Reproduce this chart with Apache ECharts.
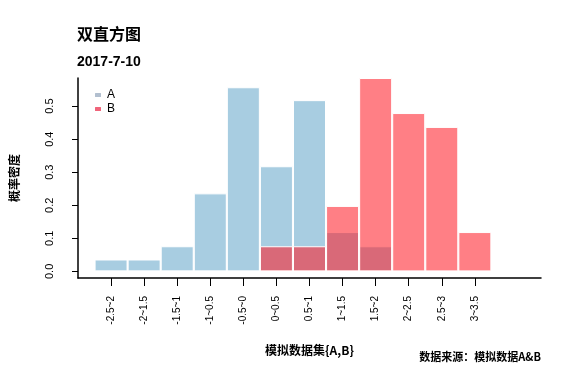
<!DOCTYPE html>
<html>
<head>
<meta charset="utf-8">
<script src="https://cdn.jsdelivr.net/npm/echarts@6/dist/echarts.min.js"></script>
<style>
  html, body { margin: 0; padding: 0; background: #fff; }
  #main { width: 581px; height: 377px; }
</style>
</head>
<body>
<div id="main"></div>
<script>
  // bins of the two histograms
  var categories = ['-2.5~2', '-2~1.5', '-1.5~1', '-1~0.5', '-0.5~0', '0~0.5', '0.5~1', '1~1.5', '1.5~2', '2~2.5', '2.5~3', '3~3.5']
  var densityA = [0.036, 0.036, 0.076, 0.236, 0.557, 0.318, 0.518, 0.119, 0.076, 0, 0, 0]
  var densityB = [0, 0, 0, 0, 0, 0.076, 0.076, 0.198, 0.585, 0.479, 0.437, 0.119]
  var yTicks = [0, 0.1, 0.2, 0.3, 0.4, 0.5]

  var positions = categories.map(function (c, i) { return i + 1 })
  var toPoints = function (arr) {
    return arr.map(function (v, i) { return [i + 1, v] })
  }

  var font = 'Liberation Sans Narrow, Liberation Sans, sans-serif'
  var cjk = 'Noto Sans CJK SC, sans-serif'

  var chart = echarts.init(document.getElementById('main'))
  chart.setOption({
    animation: false,
    title: {
      text: '双直方图',
      subtext: '2017-7-10',
      left: 72,
      top: 21,
      itemGap: 13,
      textStyle: { fontFamily: cjk, fontSize: 16, fontWeight: 'bold', color: '#000' },
      subtextStyle: { fontFamily: 'Liberation Sans, sans-serif', fontSize: 14, fontWeight: 'bold', color: '#000' }
    },
    legend: {
      orient: 'vertical',
      left: 88,
      top: 84,
      itemWidth: 8,
      itemHeight: 6,
      itemGap: 2,
      textStyle: { fontFamily: 'Liberation Sans, sans-serif', fontSize: 12, color: '#000' },
      data: [
        { name: 'A', itemStyle: { color: '#b2bfcf' } },
        { name: 'B', itemStyle: { color: '#f0647a' } }
      ]
    },
    grid: { left: 78, right: 40, top: 78, bottom: 99 },
    xAxis: {
      type: 'value',
      min: 0,
      max: 14,
      name: '模拟数据集{A,B}',
      nameLocation: 'middle',
      nameGap: 66,
      nameTextStyle: { fontFamily: cjk, fontSize: 12, fontWeight: 'bold', color: '#000' },
      axisLine: { show: true, onZero: false, lineStyle: { color: '#000', width: 1.5 } },
      axisTick: { show: true, length: 8, customValues: positions, lineStyle: { color: '#000' } },
      axisLabel: {
        customValues: positions,
        rotate: 90,
        margin: 18,
        fontFamily: font,
        fontSize: 10,
        color: '#000',
        formatter: function (v) { return categories[v - 1] || '' }
      },
      splitLine: { show: false }
    },
    yAxis: {
      type: 'value',
      min: -0.02,
      max: 0.585,
      name: '概率密度',
      nameLocation: 'middle',
      nameRotate: 90,
      nameGap: 58,
      nameTextStyle: { fontFamily: cjk, fontSize: 12, fontWeight: 'bold', color: '#000' },
      axisLine: { show: true, onZero: false, lineStyle: { color: '#000', width: 1.5 } },
      axisTick: { show: true, length: 6, customValues: yTicks, lineStyle: { color: '#000' } },
      axisLabel: {
        customValues: yTicks,
        rotate: 90,
        margin: 23,
        fontFamily: font,
        fontSize: 11,
        color: '#000',
        formatter: function (v) { return v.toFixed(1) }
      },
      splitLine: { show: false }
    },
    graphic: [{
      type: 'text',
      right: 40,
      top: 351,
      style: { text: '数据来源：模拟数据A&B', font: 'bold 11px Noto Sans CJK SC, sans-serif', fill: '#000' }
    }],
    series: [{
      name: 'A',
      type: 'bar',
      barWidth: 33,
      barGap: '-100%',
      itemStyle: { color: '#a8cde1', borderColor: '#fff', borderWidth: 1 },
      data: toPoints(densityA)
    }, {
      name: 'B',
      type: 'bar',
      barWidth: 33,
      barGap: '-100%',
      itemStyle: { color: 'rgba(255, 30, 40, 0.57)', borderColor: '#fff', borderWidth: 1 },
      data: toPoints(densityB)
    }]
  })
</script>
</body>
</html>
